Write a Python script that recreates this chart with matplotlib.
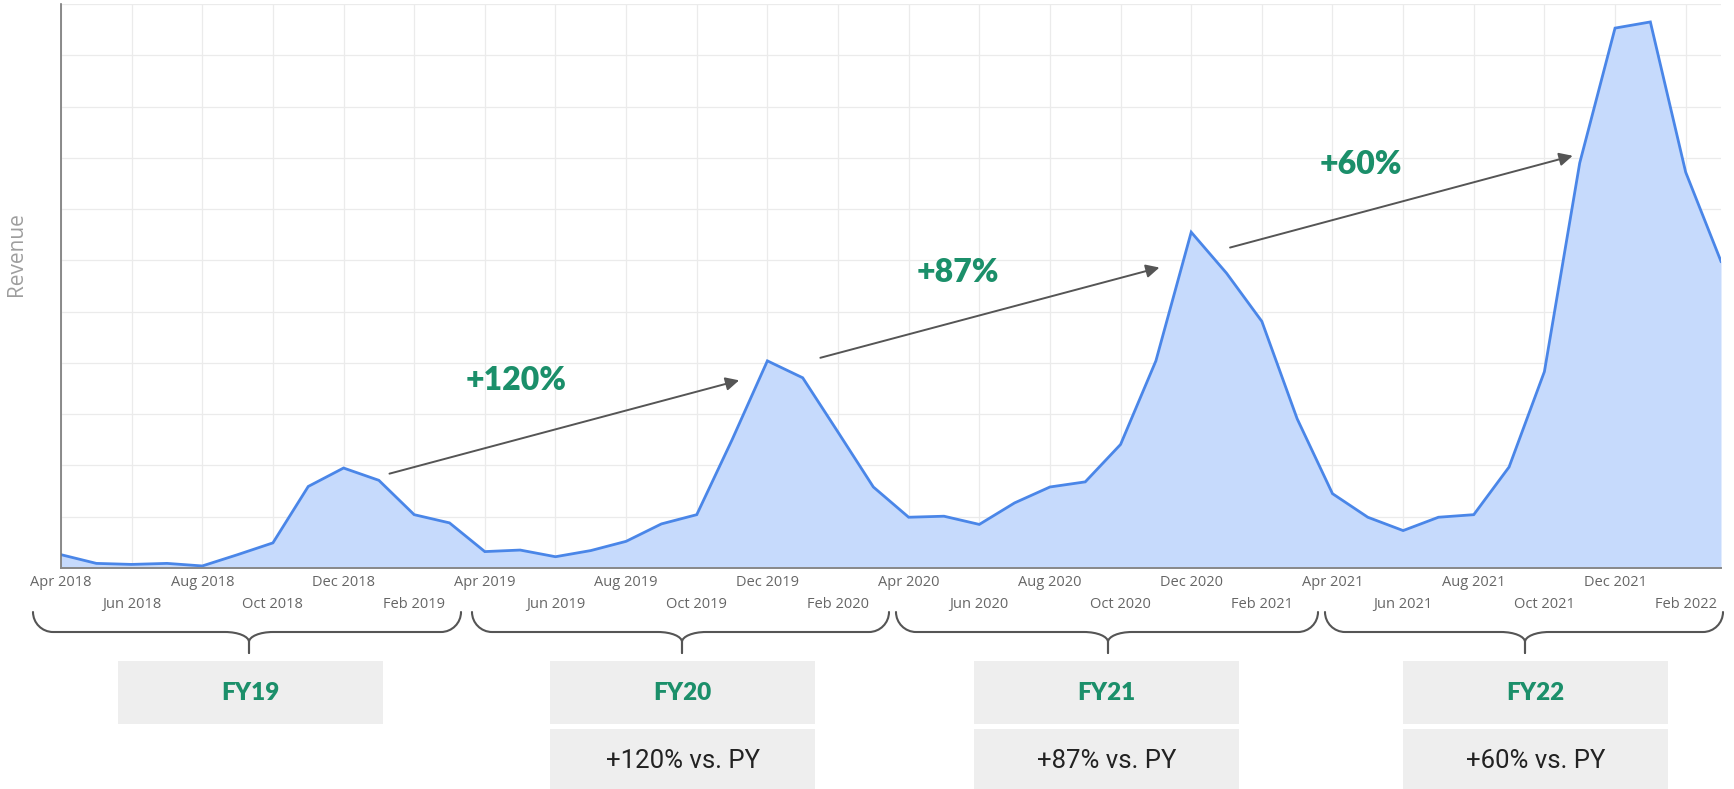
import matplotlib.pyplot as plt
from matplotlib.path import Path
from matplotlib.patches import PathPatch, Rectangle

W, H = 1734, 789

# monthly revenue, Apr 2018 .. Mar 2022 (no scale on the y axis, read in gridline units)
revenue = [0.26, 0.09, 0.07, 0.09, 0.04, 0.26, 0.49, 1.59, 1.95, 1.71, 1.04, 0.88,
           0.32, 0.35, 0.22, 0.34, 0.52, 0.86, 1.04, 2.50, 4.04, 3.71, 2.65, 1.58,
           0.99, 1.01, 0.85, 1.27, 1.58, 1.68, 2.41, 4.04, 6.55, 5.75, 4.81, 2.91,
           1.45, 0.99, 0.73, 0.99, 1.04, 1.97, 3.83, 7.90, 10.53, 10.65, 7.72, 5.98]

tick_labels = ["Apr 2018", "Jun 2018", "Aug 2018", "Oct 2018", "Dec 2018", "Feb 2019",
               "Apr 2019", "Jun 2019", "Aug 2019", "Oct 2019", "Dec 2019", "Feb 2020",
               "Apr 2020", "Jun 2020", "Aug 2020", "Oct 2020", "Dec 2020", "Feb 2021",
               "Apr 2021", "Jun 2021", "Aug 2021", "Oct 2021", "Dec 2021", "Feb 2022"]

fiscal_years = ["FY19", "FY20", "FY21", "FY22"]
growth = ["", "+120%", "+87%", "+60%"]

# growth arrows: (start month, start value, end month, end value, label month, label value)
arrows = [(9.3, 1.84, 19.2, 3.66, 12.9, 3.66),
          (21.5, 4.10, 31.1, 5.86, 25.4, 5.77),
          (33.1, 6.25, 42.8, 8.04, 36.8, 7.86)]

green = "#1b8f6a"
x = list(range(len(revenue)))

fig = plt.figure(figsize=(W / 100, H / 100), dpi=100)
ax = fig.add_axes([61 / W, 1 - 568 / H, (1721 - 61) / W, (568 - 4) / H])

ax.fill_between(x, revenue, 0, color="#c6dafc", lw=0)
ax.plot(x, revenue, color="#4a86e8", lw=2.0, solid_joinstyle="miter")

ax.set_xlim(0, len(revenue) - 1)
ax.set_ylim(0, 11)
ax.set_yticks(range(0, 12))
ax.set_yticklabels([])
ax.set_xticks(range(0, 48, 4))
ax.set_xticklabels(tick_labels[0::2])
ax.set_xticks(range(2, 48, 4), minor=True)
ax.set_xticklabels(tick_labels[1::2], minor=True)
ax.tick_params(axis="x", which="major", length=0, pad=5, labelsize=10.5, labelcolor="#666666")
ax.tick_params(axis="x", which="minor", length=0, pad=21, labelsize=10.5, labelcolor="#666666")
ax.tick_params(axis="y", length=0)
for lab in ax.get_xticklabels(which="both"):
    lab.set_fontfamily("Open Sans")
ax.grid(which="both", color="#ebebeb", lw=0.9)
ax.set_axisbelow(True)
for s in ["top", "right"]:
    ax.spines[s].set_visible(False)
ax.spines["left"].set_color("#777777")
ax.spines["left"].set_linewidth(1.2)
ax.spines["bottom"].set_color("#888888")
ax.spines["bottom"].set_linewidth(1.4)

fig.text(17 / W, 1 - 254 / H, "Revenue", rotation=90, ha="center", va="center",
         fontsize=15, color="#9e9e9e", family="Open Sans")

for sx, sy, ex, ey, tx, ty in arrows:
    ax.annotate("", xy=(ex, ey), xytext=(sx, sy),
                arrowprops=dict(arrowstyle="-|>", color="#555555", lw=1.4,
                                mutation_scale=20, shrinkA=0, shrinkB=0))
for (sx, sy, ex, ey, tx, ty), g in zip(arrows, growth[1:]):
    ax.text(tx, ty, g, ha="center", va="center", fontsize=23, fontweight="heavy",
            color=green, family="Lato")

# braces and boxes under the axis, in pixel space
ov = fig.add_axes([0, 0, 1, 1])
ov.set_xlim(0, W)
ov.set_ylim(H, 0)
ov.axis("off")

braces = [(33, 461, 249), (472, 889, 682), (896, 1318, 1108), (1325, 1723, 1525)]
boxes = [118, 550, 974, 1403]
box_w = 265


def half_brace(xe, xc, ytop=612, yline=632, ytip=653, r=20, r2=24, d=10):
    s = 1 if xc > xe else -1
    verts = [(xe, ytop),
             (xe, ytop + 0.55 * (yline - ytop)), (xe + s * 0.45 * r, yline), (xe + s * r, yline),
             (xc - s * r2, yline),
             (xc - s * 0.45 * r2, yline), (xc, yline + 0.45 * d), (xc, yline + d),
             (xc, ytip)]
    codes = [Path.MOVETO, Path.CURVE4, Path.CURVE4, Path.CURVE4, Path.LINETO,
             Path.CURVE4, Path.CURVE4, Path.CURVE4, Path.LINETO]
    return Path(verts, codes)


for (x0, x1, xc) in braces:
    for xe in (x0, x1):
        ov.add_patch(PathPatch(half_brace(xe, xc), fc="none", ec="#555555", lw=1.5,
                               capstyle="round", joinstyle="round"))

for bx, fy, g in zip(boxes, fiscal_years, growth):
    ov.add_patch(Rectangle((bx, 661), box_w, 63, fc="#eeeeee", ec="none"))
    ov.text(bx + box_w / 2, 693, fy, ha="center", va="center", fontsize=17.5,
            fontweight="heavy", color=green, family="Lato")
    if g:
        ov.add_patch(Rectangle((bx, 729), box_w, 62, fc="#eeeeee", ec="none"))
        ov.text(bx + box_w / 2, 761, g + " vs. PY", ha="center", va="center",
                fontsize=18.5, color="#222222", family="Roboto")

fig.savefig("out.png", dpi=100)
